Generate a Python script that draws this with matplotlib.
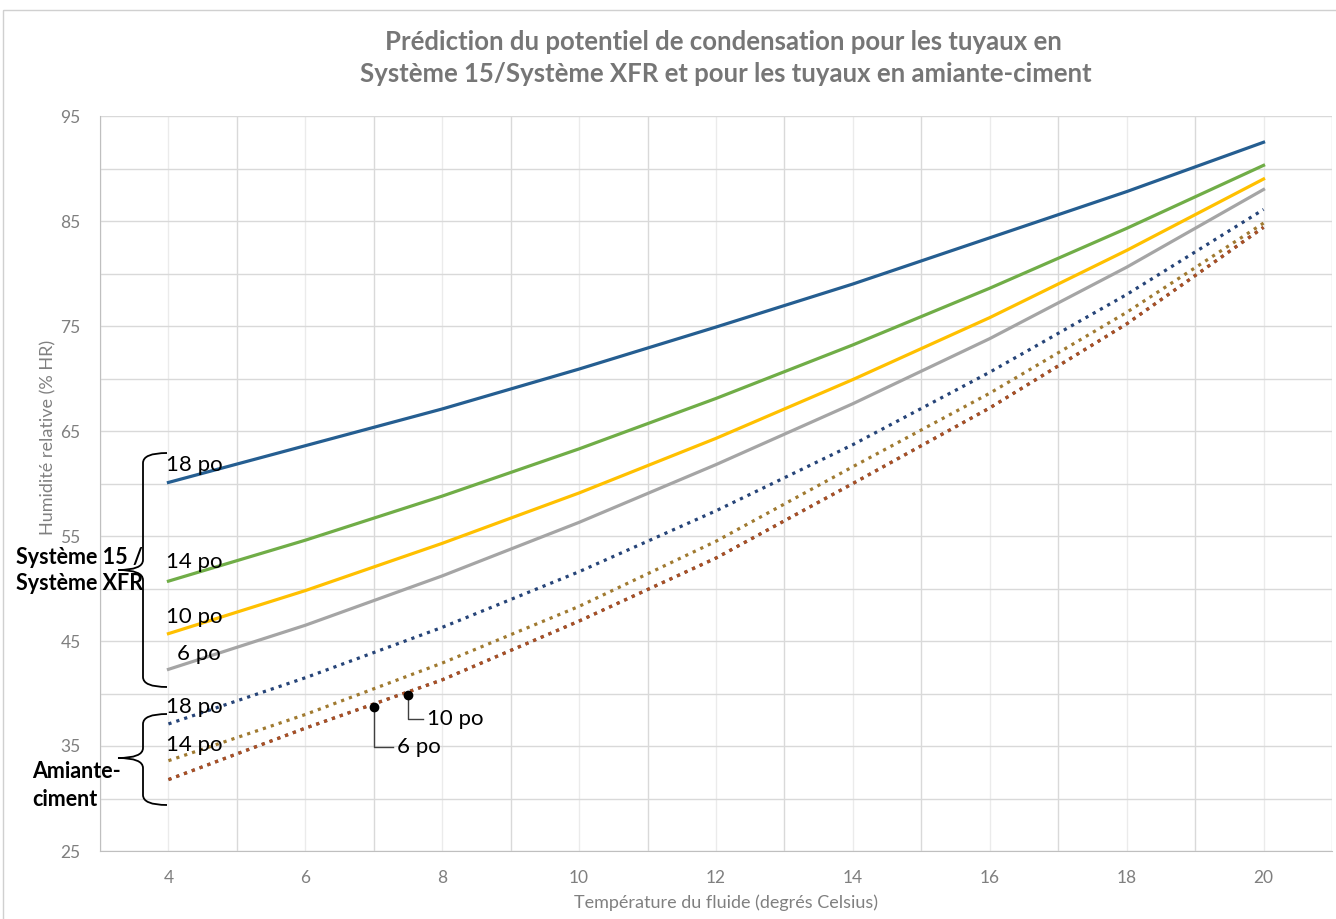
import numpy as np
import matplotlib
matplotlib.use("Agg")
import matplotlib.pyplot as plt
import matplotlib.transforms as mtransforms
from matplotlib.path import Path
from matplotlib.patches import PathPatch, Rectangle

plt.rcParams['font.family'] = ['Lato', 'DejaVu Sans']

# valeurs
temperature = [4, 6, 8, 10, 12, 14, 16, 18, 20]
s15_18po = [60.1, 63.6, 67.1, 70.9, 74.9, 79.0, 83.4, 87.8, 92.5]
s15_14po = [50.7, 54.6, 58.8, 63.3, 68.1, 73.2, 78.6, 84.3, 90.3]
s15_10po = [45.7, 49.8, 54.3, 59.1, 64.3, 69.9, 75.8, 82.2, 89.0]
s15_6po = [42.3, 46.5, 51.2, 56.3, 61.8, 67.6, 73.8, 80.6, 88.0]
ac_18po = [37.1, 41.5, 46.3, 51.6, 57.4, 63.7, 70.6, 78.0, 86.1]
ac_14po = [33.6, 38.0, 42.9, 48.3, 54.5, 61.6, 68.6, 76.3, 84.8]
ac_10po = [31.8, 36.7, 41.3, 46.9, 52.9, 60.0, 67.2, 75.2, 84.4]
ac_6po = [31.8, 36.7, 41.3, 46.9, 52.9, 60.0, 67.2, 75.2, 84.4]

callout_x = [7, 7.5]
callout_y = [38.7, 39.9]
callout_txt = ['6 po', '10 po']

W, H = 1336, 919
fig = plt.figure(figsize=(W / 100, H / 100), dpi=100)
ax = fig.add_axes([100 / W, 1 - 851 / H, 1232 / W, 735 / H])

# transformation en pixels de l'image de référence (origine en haut à gauche)
pix = mtransforms.Affine2D().scale(1 / W, -1 / H).translate(0, 1) + fig.transFigure

lw = 2.3
dot = (0, (1.0, 1.6))
ax.plot(temperature, s15_18po, color='#255E91', lw=lw, zorder=3)
ax.plot(temperature, s15_14po, color='#70AD47', lw=lw, zorder=3)
ax.plot(temperature, s15_10po, color='#FFC000', lw=lw, zorder=3)
ax.plot(temperature, s15_6po, color='#A5A5A5', lw=lw, zorder=3)
ax.plot(temperature, ac_18po, color='#264478', lw=lw, ls=dot, zorder=3)
ax.plot(temperature, ac_14po, color='#A07A30', lw=lw, ls=dot, zorder=3)
ax.plot(temperature, ac_6po, color='#636363', lw=lw, ls=dot, zorder=3)
ax.plot(temperature, ac_10po, color='#AB4F24', lw=lw, ls=dot, zorder=3)

ax.set_xlim(3, 21)
ax.set_ylim(25, 95)
ax.set_xticks(np.arange(4, 21, 2))
ax.set_yticks(np.arange(25, 96, 10))
ax.set_yticks(np.arange(30, 96, 10), minor=True)
ax.set_xticks(np.arange(3, 22, 2), minor=True)
ax.tick_params(which='both', length=0, colors='#7F7F7F', labelsize=12.5)
ax.tick_params(axis='x', pad=14)
ax.tick_params(axis='y', pad=14)
ax.grid(True, which='major', axis='y', color='#D9D9D9', lw=1)
ax.grid(True, which='minor', axis='y', color='#D9D9D9', lw=1)
ax.grid(True, which='minor', axis='x', color='#D9D9D9', lw=1)
ax.grid(True, which='major', axis='x', color='#EBEBEB', lw=1)
ax.set_axisbelow(True)
for s in ['top', 'right']:
    ax.spines[s].set_visible(False)
for s in ['left', 'bottom']:
    ax.spines[s].set_color('#BFBFBF')

fig.text(723, 42, 'Prédiction du potentiel de condensation pour les tuyaux en',
         transform=pix, ha='center', va='center', fontsize=18.5,
         fontweight='bold', color='#767676')
fig.text(726, 74, 'Système 15/Système XFR et pour les tuyaux en amiante-ciment',
         transform=pix, ha='center', va='center', fontsize=18.5,
         fontweight='bold', color='#767676')
fig.text(48, 437, 'Humidité relative (% HR)', transform=pix, rotation=90,
         ha='center', va='center', fontsize=13, color='#808080')
fig.text(726, 903, 'Température du fluide (degrés Celsius)', transform=pix,
         ha='center', va='center', fontsize=13, color='#808080')

# bordure de la zone du graphique
fig.patches.append(Rectangle((3, 10), 1400, 1000, transform=pix, fill=False,
                             edgecolor='#D0D0D0', lw=1))

# étiquettes des courbes
labels = [(166, 465, '18 po'), (166, 562, '14 po'), (166, 617, '10 po'),
          (177, 654, '6 po'), (166, 707, '18 po'), (166, 745, '14 po')]
for x, y, t in labels:
    fig.text(x, y, t, transform=pix, ha='left', va='center', fontsize=16,
             color='black')

fig.text(16, 557, 'Système 15 /', transform=pix, ha='left', va='center',
         fontsize=15.5, fontweight='bold')
fig.text(16, 584, 'Système XFR', transform=pix, ha='left', va='center',
         fontsize=15.5, fontweight='bold')
fig.text(32, 772, 'Amiante-', transform=pix, ha='left', va='center',
         fontsize=15.5, fontweight='bold')
fig.text(32, 799, 'ciment', transform=pix, ha='left', va='center',
         fontsize=15.5, fontweight='bold')


def accolade(y_top, y_bot, y_mid, x_spine=143, x_end=167, x_tip=118, r=10):
    verts = [(x_end, y_top), (x_spine, y_top), (x_spine, y_top + r),
             (x_spine, y_mid - r),
             (x_spine, y_mid), (x_tip, y_mid),
             (x_spine, y_mid), (x_spine, y_mid + r),
             (x_spine, y_bot - r),
             (x_spine, y_bot), (x_end, y_bot)]
    codes = [Path.MOVETO, Path.CURVE3, Path.CURVE3, Path.LINETO,
             Path.CURVE3, Path.CURVE3, Path.CURVE3, Path.CURVE3,
             Path.LINETO, Path.CURVE3, Path.CURVE3]
    fig.patches.append(PathPatch(Path(verts, codes), transform=pix,
                                 fill=False, edgecolor='black', lw=1.3))


accolade(453, 687, 570)
accolade(714, 805, 758)

# repères 6 po / 10 po
label_y = [34.9, 37.6]
label_x = [7.28, 7.72]
for cx, cy, ly, lx, t in zip(callout_x, callout_y, label_y, label_x, callout_txt):
    ax.plot([cx, cx, lx], [cy, ly, ly], color='#404040', lw=1, zorder=4)
    ax.plot(cx, cy, 'o', color='black', ms=6, zorder=5)
    ax.text(lx + 0.06, ly, t, ha='left', va='center', fontsize=16, zorder=5)

fig.savefig('out.png', dpi=100)
